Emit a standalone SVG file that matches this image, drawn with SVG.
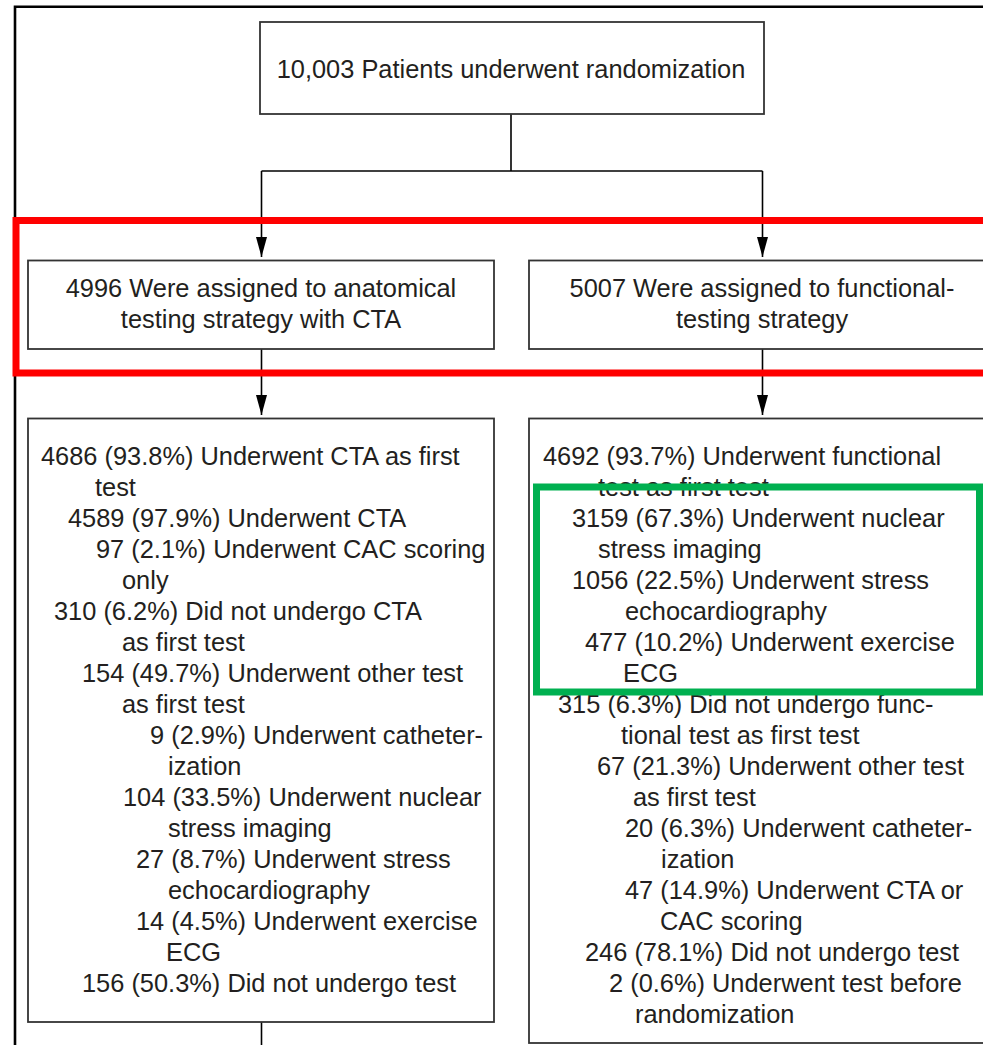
<svg xmlns="http://www.w3.org/2000/svg" width="983" height="1045" viewBox="0 0 983 1045">
<defs>
<marker id="arr" viewBox="0 0 20 11" refX="20" refY="5.5" markerWidth="20" markerHeight="11" markerUnits="userSpaceOnUse" orient="auto">
<path d="M0,0 L20,5.5 L0,11 z" fill="#000"/>
</marker>
<style>
.box{fill:#fff;stroke:#333;stroke-width:1.8}
.t{font-family:"Liberation Sans",Arial,sans-serif;font-size:25.4px;fill:#231f20}
.c{text-anchor:middle}
.con{fill:none;stroke:#000;stroke-width:1.6}
</style>
</defs>
<rect width="983" height="1045" fill="#fff"/>
<path d="M15,1045 V6.8 H983" fill="none" stroke="#000" stroke-width="2.6"/>
<g id="connectors">
<path class="con" d="M511,114 V171"/>
<path class="con" d="M261.5,171 H762.5"/>
<path class="con" d="M261.5,171 V257" marker-end="url(#arr)"/>
<path class="con" d="M762.5,171 V257" marker-end="url(#arr)"/>
<path class="con" d="M261.5,349 V415" marker-end="url(#arr)"/>
<path class="con" d="M762.5,349 V415" marker-end="url(#arr)"/>
<path class="con" d="M261.5,1022 V1045"/>
</g>
<g id="n_random">
<rect class="box" x="260" y="22" width="504" height="92"/>
<text class="t c" x="511" y="78">10,003 Patients underwent randomization</text>
</g>
<g id="n_anat">
<rect class="box" x="28" y="260.5" width="466" height="88.5"/>
<text class="t c" x="261" y="297">4996 Were assigned to anatomical</text>
<text class="t c" x="261" y="328">testing strategy with CTA</text>
</g>
<g id="n_func">
<rect class="box" x="529" y="260.5" width="470" height="88.5"/>
<text class="t c" x="762" y="297">5007 Were assigned to functional-</text>
<text class="t c" x="762" y="328">testing strategy</text>
</g>
<g id="n_anat_detail">
<rect class="box" x="28" y="418.5" width="466" height="603.5"/>
<text class="t" x="41" y="465">4686 (93.8%) Underwent CTA as first</text>
<text class="t" x="95" y="496">test</text>
<text class="t" x="68" y="527">4589 (97.9%) Underwent CTA</text>
<text class="t" x="96" y="558">97 (2.1%) Underwent CAC scoring</text>
<text class="t" x="122" y="589">only</text>
<text class="t" x="54" y="620">310 (6.2%) Did not undergo CTA</text>
<text class="t" x="122" y="651">as first test</text>
<text class="t" x="82" y="682">154 (49.7%) Underwent other test</text>
<text class="t" x="122" y="713">as first test</text>
<text class="t" x="150" y="744">9 (2.9%) Underwent catheter-</text>
<text class="t" x="168" y="775">ization</text>
<text class="t" x="123" y="806">104 (33.5%) Underwent nuclear</text>
<text class="t" x="168" y="837">stress imaging</text>
<text class="t" x="136" y="868">27 (8.7%) Underwent stress</text>
<text class="t" x="168" y="899">echocardiography</text>
<text class="t" x="136" y="930">14 (4.5%) Underwent exercise</text>
<text class="t" x="166" y="961">ECG</text>
<text class="t" x="82" y="992">156 (50.3%) Did not undergo test</text>
</g>
<g id="n_func_detail">
<rect class="box" x="529" y="418.5" width="470" height="624.5"/>
<text class="t" x="543" y="465">4692 (93.7%) Underwent functional</text>
<text class="t" x="598" y="496">test as first test</text>
<text class="t" x="572" y="527">3159 (67.3%) Underwent nuclear</text>
<text class="t" x="598" y="558">stress imaging</text>
<text class="t" x="572" y="589">1056 (22.5%) Underwent stress</text>
<text class="t" x="625" y="620">echocardiography</text>
<text class="t" x="585" y="651">477 (10.2%) Underwent exercise</text>
<text class="t" x="623" y="682">ECG</text>
<text class="t" x="558" y="713">315 (6.3%) Did not undergo func-</text>
<text class="t" x="621" y="744">tional test as first test</text>
<text class="t" x="597" y="775">67 (21.3%) Underwent other test</text>
<text class="t" x="633" y="806">as first test</text>
<text class="t" x="625" y="837">20 (6.3%) Underwent catheter-</text>
<text class="t" x="661" y="868">ization</text>
<text class="t" x="625" y="899">47 (14.9%) Underwent CTA or</text>
<text class="t" x="660" y="930">CAC scoring</text>
<text class="t" x="585" y="961">246 (78.1%) Did not undergo test</text>
<text class="t" x="609" y="992">2 (0.6%) Underwent test before</text>
<text class="t" x="635" y="1023">randomization</text>
</g>
<g id="highlight_red">
<rect x="16" y="220.5" width="1000" height="152.5" fill="none" stroke="#ff0000" stroke-width="7"/>
</g>
<g id="highlight_green">
<rect x="536.5" y="487" width="443" height="205" fill="none" stroke="#00b050" stroke-width="7"/>
</g>
</svg>
